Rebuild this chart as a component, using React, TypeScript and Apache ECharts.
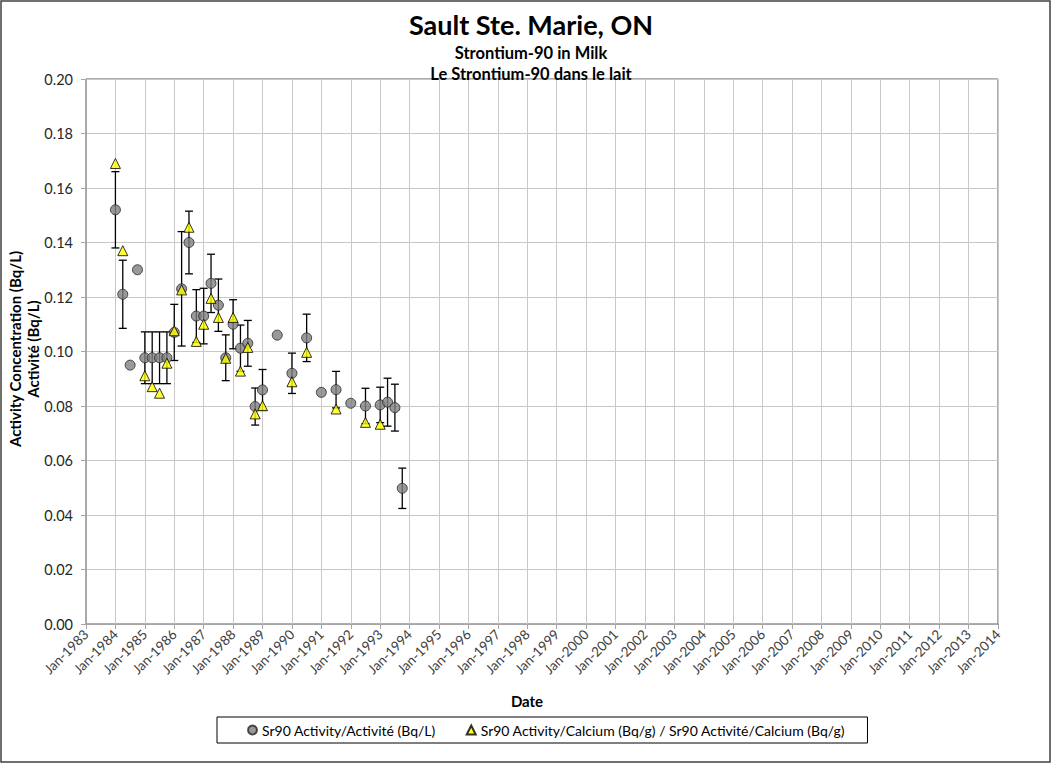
import React, { useEffect, useRef } from "react";
import * as echarts from "echarts";

// Circle series: Sr90 Activity (Bq/L)
const actDates = [
  "1984-01", "1984-04", "1984-07", "1984-10",
  "1985-01", "1985-04", "1985-07", "1985-10",
  "1986-01", "1986-04", "1986-07", "1986-10",
  "1987-01", "1987-04", "1987-07", "1987-10",
  "1988-01", "1988-04", "1988-07", "1988-10",
  "1989-01", "1989-07", "1990-01", "1990-07",
  "1991-01", "1991-07", "1992-01", "1992-07",
  "1993-01", "1993-04", "1993-07", "1993-10",
];
const actValues = [
  0.152, 0.121, 0.095, 0.130,
  0.0977, 0.0977, 0.0977, 0.0977,
  0.107, 0.123, 0.140, 0.113,
  0.113, 0.125, 0.117, 0.0977,
  0.110, 0.1012, 0.103, 0.0798,
  0.0859, 0.106, 0.092, 0.105,
  0.085, 0.086, 0.081, 0.080,
  0.0804, 0.0814, 0.0794, 0.0498,
];
// half-width of the error bar (null = no bar)
const actErrors: (number | null)[] = [
  0.014, 0.0125, null, null,
  0.0095, 0.0095, 0.0095, 0.0095,
  0.0103, 0.021, 0.0115, 0.0097,
  0.0102, 0.0107, 0.0096, 0.0084,
  0.009, 0.0085, 0.0084, 0.0068,
  0.0075, null, 0.0074, 0.0087,
  null, 0.0067, null, 0.0065,
  0.0065, 0.0088, 0.0086, 0.0074,
];

// Triangle series: Sr90 Activity/Calcium (Bq/g)
const caDates = [
  "1984-01", "1984-04",
  "1985-01", "1985-04", "1985-07", "1985-10",
  "1986-01", "1986-04", "1986-07", "1986-10",
  "1987-01", "1987-04", "1987-07", "1987-10",
  "1988-01", "1988-04", "1988-07", "1988-10",
  "1989-01", "1990-01", "1990-07", "1991-07",
  "1992-07", "1993-01",
];
const caValues = [
  0.169, 0.137,
  0.0911, 0.0871, 0.0847, 0.0957,
  0.1076, 0.1226, 0.1456, 0.1037,
  0.110, 0.1195, 0.1125, 0.0975,
  0.1125, 0.0928, 0.1015, 0.0771,
  0.0801, 0.0889, 0.0997, 0.0789,
  0.074, 0.0733,
];

const yTicks = { min: 0, max: 0.2, interval: 0.02 };
const xYears = { min: 1983, max: 2014, interval: 1 };

const seriesNames = [
  "Sr90 Activity/Activité (Bq/L)",
  "Sr90 Activity/Calcium (Bq/g) / Sr90 Activité/Calcium (Bq/g)",
];

const FONT = "Lato, 'Open Sans', sans-serif";

function toYear(d: string): number {
  const [y, m] = d.split("-").map(Number);
  return y + (m - 1) / 12;
}

export default function App() {
  const ref = useRef<HTMLDivElement>(null);

  useEffect(() => {
    if (!ref.current) return;
    const chart = echarts.init(ref.current, null, { renderer: "svg" });

    const actData = actDates.map((d, i) => [toYear(d), actValues[i]]);
    const caData = caDates.map((d, i) => [toYear(d), caValues[i]]);
    const errData: number[][] = [];
    actDates.forEach((d, i) => {
      const e = actErrors[i];
      if (e != null) errData.push([toYear(d), actValues[i] - e, actValues[i] + e]);
    });

    chart.setOption({
      animation: false,
      textStyle: { fontFamily: FONT },
      title: [
        {
          text: "Sault Ste. Marie, ON",
          left: 526,
          textAlign: "center",
          top: 6,
          textStyle: { fontSize: 27, fontWeight: "bold", color: "#000", fontFamily: FONT },
        },
        {
          text: "Strontium-90 in Milk",
          left: 526,
          textAlign: "center",
          top: 39,
          textStyle: { fontSize: 16.5, fontWeight: "bold", color: "#000", fontFamily: FONT },
        },
        {
          text: "Le Strontium-90 dans le lait",
          left: 526,
          textAlign: "center",
          top: 60,
          textStyle: { fontSize: 16.5, fontWeight: "bold", color: "#000", fontFamily: FONT },
        },
      ],
      grid: {
        left: 86,
        right: 54,
        top: 79,
        bottom: 140,
        show: true,
        borderColor: "#595959",
        borderWidth: 1,
        backgroundColor: "transparent",
      },
      legend: {
        data: [
          { name: seriesNames[0], icon: "circle" },
          { name: seriesNames[1], icon: "triangle" },
        ],
        left: 217,
        top: 717,
        itemWidth: 9,
        itemHeight: 9,
        itemGap: 30,
        padding: [6, 22, 6, 30],
        borderColor: "#000",
        borderWidth: 1,
        textStyle: { fontSize: 14, color: "#000", fontFamily: FONT },
      },
      xAxis: {
        type: "value",
        min: xYears.min,
        max: xYears.max,
        interval: xYears.interval,
        axisLine: { show: true, lineStyle: { color: "#a6a6a6", width: 1 } },
        axisTick: { show: true, length: 5, lineStyle: { color: "#a6a6a6" } },
        splitLine: { show: true, lineStyle: { color: "#c8c8c8", width: 1 } },
        axisLabel: {
          rotate: 45,
          margin: 8,
          fontSize: 13.5,
          color: "#404040",
          fontFamily: FONT,
          formatter: (v: number) => "Jan-" + v,
        },
      },
      yAxis: {
        type: "value",
        min: yTicks.min,
        max: yTicks.max,
        interval: yTicks.interval,
        axisLine: { show: true, lineStyle: { color: "#a6a6a6", width: 1 } },
        axisTick: { show: true, length: 5, lineStyle: { color: "#a6a6a6" } },
        splitLine: { show: true, lineStyle: { color: "#c8c8c8", width: 1 } },
        axisLabel: {
          margin: 13,
          fontSize: 14.5,
          color: "#262626",
          fontFamily: FONT,
          formatter: (v: number) => v.toFixed(2),
        },
      },
      graphic: [
        {
          type: "rect",
          shape: { x: 1, y: 1, width: 1049, height: 761 },
          style: { fill: "none", stroke: "#404040", lineWidth: 1.5 },
          silent: true,
        },
        {
          type: "text",
          x: 24,
          y: 349,
          rotation: Math.PI / 2,
          style: {
            text: "Activity Concentration (Bq/L)\nActivité (Bq/L)",
            align: "center",
            verticalAlign: "middle",
            fontSize: 15,
            lineHeight: 18,
            fontWeight: "bold",
            fontFamily: FONT,
            fill: "#000",
          },
        },
        {
          type: "text",
          x: 527,
          y: 701,
          style: {
            text: "Date",
            align: "center",
            verticalAlign: "middle",
            fontSize: 15,
            fontWeight: "bold",
            fontFamily: FONT,
            fill: "#000",
          },
        },
      ],
      series: [
        {
          type: "custom",
          name: "errors",
          z: 1,
          data: errData,
          encode: { x: 0, y: [1, 2] },
          renderItem: (params: any, api: any) => {
            const x = api.value(0);
            const lo = api.coord([x, api.value(1)]);
            const hi = api.coord([x, api.value(2)]);
            const cap = 4;
            const st = { stroke: "#000", lineWidth: 1.3 };
            return {
              type: "group",
              children: [
                { type: "line", shape: { x1: hi[0], y1: hi[1], x2: lo[0], y2: lo[1] }, style: st },
                { type: "line", shape: { x1: hi[0] - cap, y1: hi[1], x2: hi[0] + cap, y2: hi[1] }, style: st },
                { type: "line", shape: { x1: lo[0] - cap, y1: lo[1], x2: lo[0] + cap, y2: lo[1] }, style: st },
              ],
            };
          },
        },
        {
          type: "scatter",
          name: seriesNames[0],
          z: 2,
          symbol: "circle",
          symbolSize: 10,
          itemStyle: { color: "#808080", borderColor: "#262626", borderWidth: 1 },
          data: actData,
        },
        {
          type: "scatter",
          name: seriesNames[1],
          z: 3,
          symbol: "triangle",
          symbolSize: 10,
          itemStyle: { color: "#ffff00", borderColor: "#000", borderWidth: 1 },
          data: caData,
        },
      ],
    });

    return () => chart.dispose();
  }, []);

  return (
    <div
      ref={ref}
      style={{ position: "absolute", left: 0, top: 0, width: 1052, height: 764, background: "#fff" }}
    />
  );
}
